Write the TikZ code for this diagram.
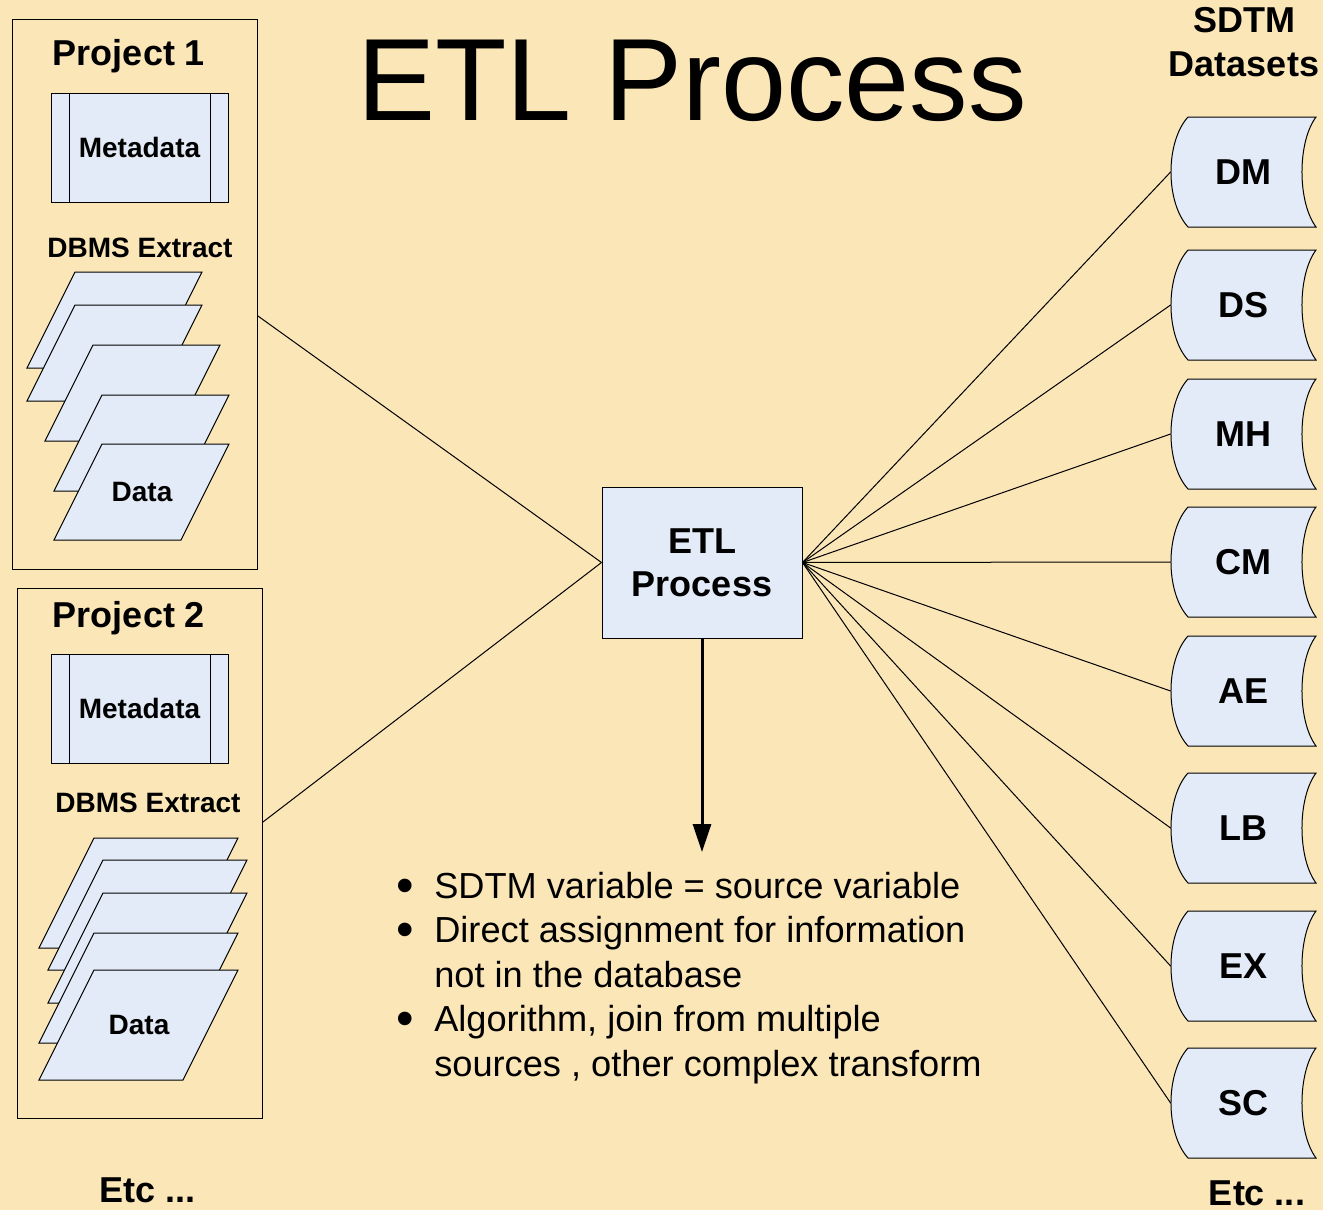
\documentclass[tikz,border=0pt]{standalone}
\usepackage{fontspec}
\setmainfont{Liberation Sans}
\usetikzlibrary{arrows.meta}
\definecolor{paper}{RGB}{251,230,184}
\definecolor{boxfill}{RGB}{228,235,248}
\newcommand{\bigdot}{\smash{\fontsize{25}{0}\selectfont\raisebox{-2.2pt}{\textbullet}}}
\tikzset{
    project/.style={draw,line width=0.5pt,inner sep=0pt},
    procbox/.style={draw,fill=boxfill,line width=0.5pt,minimum width=88.5pt,minimum height=54.5pt,
        font=\bfseries\fontsize{14}{16}\selectfont,
        path picture={
            \draw[line width=0.5pt] ([xshift=9pt]path picture bounding box.north west) -- ([xshift=9pt]path picture bounding box.south west);
            \draw[line width=0.5pt] ([xshift=-9pt]path picture bounding box.north east) -- ([xshift=-9pt]path picture bounding box.south east);}},
    sheet/.style={draw,fill=boxfill,line width=0.5pt},
    dshape/.style={draw,fill=boxfill,line width=0.5pt},
    smalltxt/.style={font=\bfseries\fontsize{14}{16}\selectfont},
    heading/.style={font=\bfseries\fontsize{18}{22}\selectfont},
    etlbox/.style={draw,fill=boxfill,line width=0.5pt,minimum width=100pt,minimum height=75.5pt,
        align=center,font=\bfseries\fontsize{18}{21.5}\selectfont},
    dataset/.style={minimum width=72.5pt,minimum height=55pt,inner sep=0pt,font=\bfseries\fontsize{18}{22}\selectfont},
    link/.style={line width=0.5pt},
    flow/.style={-{Triangle[length=14pt,width=9pt]},line width=1.5pt}
}

\begin{document}
\begin{tikzpicture}[x=0.5pt,y=-0.5pt]
    \fill[paper] (0,0) rectangle (1323,1210);
    \useasboundingbox (0,0) rectangle (1323,1210);

    % title
    \node[anchor=base,inner sep=0pt,font=\fontsize{58.5}{60}\selectfont] (title) at (692,120) {ETL Process};

    % project 1
    \node[project,minimum width=122.5pt,minimum height=275pt] (proj1) at (134.5,294) {};
    \node[heading,anchor=base,inner sep=0pt] (p1title) at (129,65) {Project 1};
    \node[procbox] (meta1) at (139.5,147.5) {Metadata};
    \node[smalltxt] (dbms1) at (140,248) {DBMS Extract};
    \foreach \x/\y in {27/368,27/401,45/441,54/491,54/540}
        \draw[sheet] (\x,\y) -- ++(127,0) -- ++(48,-96) -- ++(-127,0) -- cycle;
    \node[smalltxt] (data1) at (142,492) {Data};

    % project 2
    \node[project,minimum width=122.5pt,minimum height=265pt] (proj2) at (139.5,853) {};
    \node[heading,anchor=base,inner sep=0pt] (p2title) at (129,627) {Project 2};
    \node[procbox] (meta2) at (139.5,708.5) {Metadata};
    \node[smalltxt] (dbms2) at (148,803) {DBMS Extract};
    \foreach \x/\y in {39/948,48/970,48/1003,39/1043,39/1080}
        \draw[sheet] (\x,\y) -- ++(144,0) -- ++(55,-110) -- ++(-144,0) -- cycle;
    \node[smalltxt] (data2) at (139,1025) {Data};
    \node[heading] (etc1) at (148,1190) {Etc ...};

    % etl
    \node[etlbox] (etl) at (702,562.5) {ETL\\Process};
    \coordinate (flowend) at (702,852);
    \draw[flow] (etl.south) -- (flowend);

    % sdtm datasets
    \node[heading,align=center] (sdtm) at (1244,42) {SDTM\\Datasets};
    \foreach \n/\y in {DM/172,DS/305,MH/434,CM/562,AE/691,LB/828,EX/966,SC/1103}{
        \draw[dshape,shift={(1243.5,\y)}] (-55.5,-55) -- (72.5,-55)
            .. controls (53.8,-30) and (53.8,30) .. (72.5,55) -- (-55.5,55)
            .. controls (-78.2,30) and (-78.2,-30) .. (-55.5,-55) -- cycle;
        \node[dataset] (\n) at (1243.5,\y) {\n};
    }
    \node[heading] (etc2) at (1257,1193) {Etc ...};

    % notes
    \node[anchor=base west,inner sep=0pt,font=\fontsize{18.1}{22.25}\selectfont] (notes) at (396,898) {%
        \begin{tabular}[t]{@{}l@{\hspace{10.2pt}}l@{}}
        \bigdot & SDTM variable = source variable\\
        \bigdot & Direct assignment for information\\
                & not in the database\\
        \bigdot & Algorithm, join from multiple\\
                & sources , other complex transform
        \end{tabular}};

    % edges
    \draw[link] (proj1.-10) -- (etl.west);
    \draw[link] (proj2.14) -- (etl.west);
    \foreach \n in {DM,DS,MH,CM,AE,LB,EX,SC}
        \draw[link] (etl.east) -- (\n.west);
\end{tikzpicture}
\end{document}
